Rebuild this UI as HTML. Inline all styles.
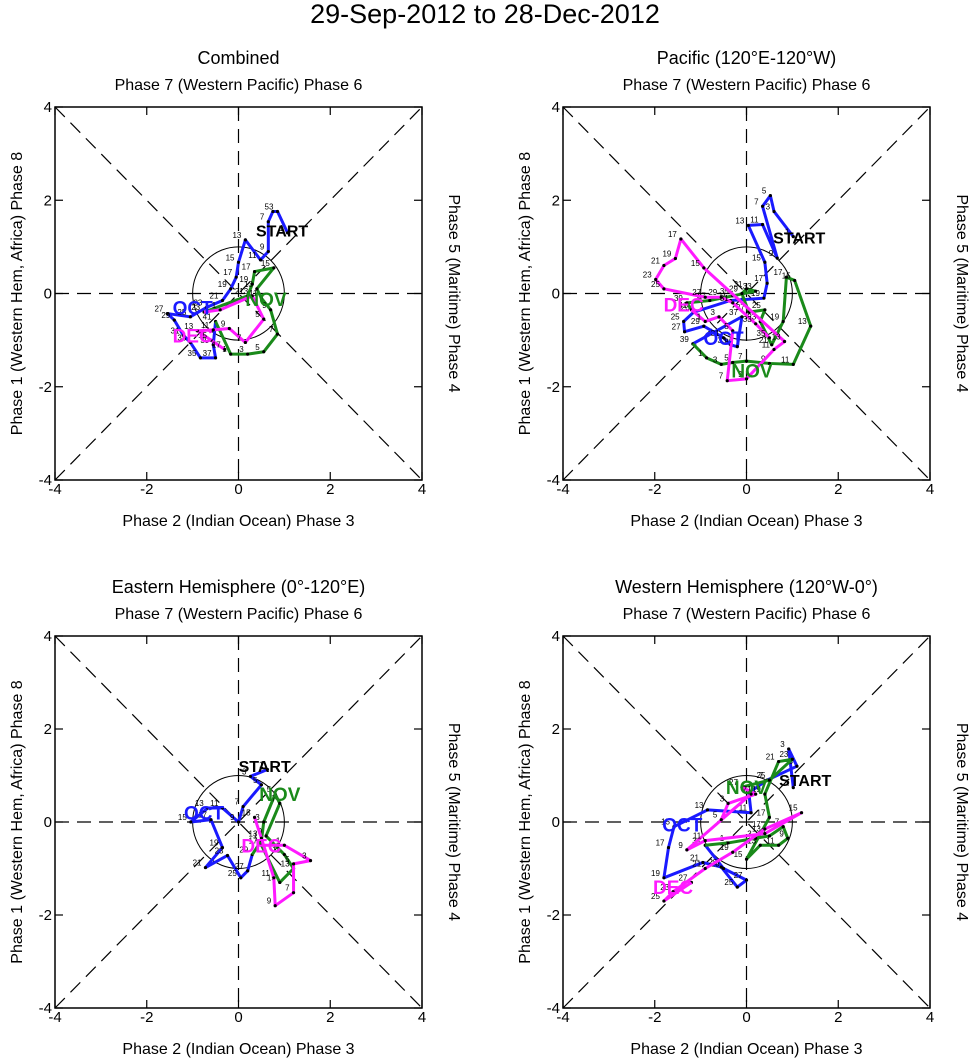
<!DOCTYPE html>
<html><head><meta charset="utf-8"><style>
body{margin:0;background:#fff;}
svg{display:block;font-family:"Liberation Sans",sans-serif;}
</style></head><body>
<svg id="fig" width="971" height="1060" viewBox="0 0 971 1060">
<text x="485" y="23" font-size="27" text-anchor="middle">29-Sep-2012 to 28-Dec-2012</text>
</svg>
<script>
const ticks=[-4,-2,0,2,4];
const tickLabels=["-4","-2","0","2","4"];
const titles=["Combined","Pacific (120°E-120°W)","Eastern Hemisphere (0°-120°E)","Western Hemisphere (120°W-0°)"];
const p1Oct=[[1.07,1.3],[0.85,1.76],[0.75,1.76],[0.65,1.54],[0.65,0.9],[0.48,0.72],[0.15,1.15],[0,0.67],[-0.05,0.35],[-0.17,0.1],[-0.35,-0.15],[-0.7,-0.3],[-1.05,-0.5],[-1.55,-0.43],[-1.4,-0.57],[-1.2,-0.9],[-1.05,-1.05],[-0.83,-1.38],[-0.5,-1.38],[-0.55,-1.1],[-0.5,-0.6]];
const p1Nov=[[-0.17,-1.3],[0.2,-1.3],[0.55,-1.25],[0.85,-0.87],[0.7,-0.35],[0.5,-0.1],[0.4,0.1],[0.77,0.55],[0.35,0.47],[0.3,0.2],[0.2,-0.05],[-0.75,-0.4]];
const p1Dec=[[-0.4,-0.35],[0.3,-0.05],[0.55,-0.55],[0.15,-1.05],[-0.2,-0.75],[-0.55,-0.78],[-0.9,-0.8],[-0.6,-1.0],[-0.3,-1.2]];
const p2Oct=[[1.02,1.22],[0.6,1.76],[0.52,2.1],[0.35,1.87],[0.67,0.76],[0.35,1.48],[0.04,1.46],[0.4,0.67],[0.45,0.22],[0.38,-0.1],[-0.35,-0.15],[-1.15,-0.4],[-1.37,-0.6],[-1.35,-0.82],[-0.93,-0.7],[-0.5,-0.95],[-0.35,-1.1],[-0.2,-1.14],[-0.1,-0.5],[-1.17,-1.08]];
const p2Nov=[[-0.87,-1.38],[-0.55,-1.52],[-0.3,-1.48],[0,-1.45],[0.5,-1.5],[1.02,-1.52],[1.4,-0.7],[1.05,0.28],[0.87,0.35],[0.8,-0.6],[0.55,-1.1],[0.3,-0.6],[0.4,-0.35],[0.05,-0.4],[-0.1,0.0],[0.0,0.1],[0.2,0.05],[-0.3,-0.05],[-0.8,-0.15],[-1.3,-0.2],[-1.2,-0.35]];
const p2Dec=[[-0.9,-0.6],[-0.6,-0.5],[-0.3,-0.8],[-0.42,-1.87],[0,-1.83],[0.6,-1.2],[0.83,-1.03],[-0.93,0.55],[-1.43,1.17],[-1.55,0.75],[-1.8,0.6],[-1.98,0.3],[-1.8,0.1],[-0.9,-0.08],[-0.55,-0.08],[-0.3,-0.2],[0.2,-0.65],[0.5,-0.95]];
const p3Oct=[[0.63,1.13],[0.26,0.98],[0.5,0.8],[0.1,0.33],[0,0],[-0.35,0.3],[-0.67,0.3],[-1.04,0],[-0.6,0.05],[-0.35,-0.55],[-0.72,-0.98],[-0.24,-0.72],[0.05,-1.2],[0.2,-1.05],[0.3,-0.7]];
const p3Nov=[[0.5,-0.4],[0.55,0.0],[0.8,0.6],[0.9,0.4],[0.6,-0.3],[1.0,-0.7],[1.2,-1.0],[0.9,-1.3],[0.5,-0.5]];
const p3Dec=[[1.0,-0.5],[1.57,-0.83],[1.2,-0.9],[1.2,-1.52],[0.8,-1.8],[0.77,-1.2],[0.5,-0.35],[0.35,0.1]];
const p4Oct=[[1.02,0.74],[0.92,1.57],[1.1,1.2],[0.45,0.9],[0.05,0.63],[0.1,0.2],[-0.85,0.26],[-1.58,-0.1],[-1.7,-0.55],[-1.8,-1.2],[-0.95,-0.87],[-0.55,-0.97],[-0.2,-1.4],[0,-1.25],[-0.5,-1.0],[-0.9,-0.5]];
const p4Nov=[[-0.4,-0.45],[0.2,-0.35],[0.5,-0.3],[0.8,-0.1],[0.9,-0.35],[0.7,-0.5],[0.3,-0.5],[0,-0.8],[0.5,0.1],[0.4,0.6],[0.7,1.3],[1.0,1.35],[0.5,0.9],[-0.1,0.75]];
const p4Dec=[[0.2,0.6],[-0.4,0.4],[-0.55,0.05],[0.1,0.6],[-1.3,-0.6],[-0.9,-0.4],[0.4,-0.25],[1.2,0.2],[0.4,-0.15],[-0.3,-0.65],[-0.9,-1.0],[-1.6,-1.5],[-1.8,-1.7],[-1.2,-1.3]];
const startPos=[[0.95,1.35],[1.15,1.2],[0.57,1.2],[1.28,0.9]];
const octLbl=[[-1.0,-0.3],[-0.5,-0.95],[-0.75,0.2],[-1.4,-0.05]];
const novLbl=[[0.6,-0.12],[0.12,-1.65],[0.9,0.6],[0.0,0.75]];
const decLbl=[[-1.0,-0.9],[-1.37,-0.24],[0.5,-0.5],[-1.6,-1.4]];
const panels=[{l:55,r:422,t:107,b:480},{l:563,r:930,t:107,b:480},{l:55,r:422,t:636,b:1008},{l:563,r:930,t:636,b:1008}];
const tracks=[[p1Oct,p1Nov,p1Dec],[p2Oct,p2Nov,p2Dec],[p3Oct,p3Nov,p3Dec],[p4Oct,p4Nov,p4Dec]];
const colors=["#1a1aff","#1a8a1a","#ff1aff"];
const NS="http://www.w3.org/2000/svg";
const svg=document.getElementById('fig');
function mk(tag,attrs,parent,txt){const e=document.createElementNS(NS,tag);for(const k in attrs)e.setAttribute(k,attrs[k]);if(txt!==undefined)e.textContent=txt;(parent||svg).appendChild(e);return e;}
panels.forEach((P,i)=>{
  const sx=v=>P.l+(v+4)/8*(P.r-P.l);
  const sy=v=>P.b-(v+4)/8*(P.b-P.t);
  const g=mk('g',{});
  
  
  const cx=(P.l+P.r)/2;
  let e=mk('text',{x:cx,y:P.t-43,'font-size':18,'text-anchor':'middle'},g,titles[i]);
  
  e=mk('text',{x:cx,y:P.t-17,'font-size':16,'text-anchor':'middle'},g,'Phase 7 (Western Pacific) Phase 6');
  
  e=mk('text',{x:cx,y:P.b+46,'font-size':16,'text-anchor':'middle'},g,'Phase 2 (Indian Ocean) Phase 3');
  
  const cy=(P.t+P.b)/2;
  e=mk('text',{x:P.l-39,y:cy,'font-size':16,'text-anchor':'middle',transform:`rotate(-90 ${P.l-39} ${cy})`,dy:6},g,'Phase 1 (Western Hem, Africa) Phase 8');
  
  e=mk('text',{x:P.r+33,y:cy,'font-size':16,'text-anchor':'middle',transform:`rotate(90 ${P.r+33} ${cy})`,dy:6},g,'Phase 5 (Maritime) Phase 4');
  
  const dash={stroke:'#000','stroke-width':1.2,'stroke-dasharray':'14,8',fill:'none'};
  mk('line',Object.assign({x1:P.l,y1:P.t,x2:P.r,y2:P.b},dash),g);
  mk('line',Object.assign({x1:P.l,y1:P.b,x2:P.r,y2:P.t},dash),g);
  mk('line',Object.assign({x1:sx(0),y1:P.t,x2:sx(0),y2:P.b},dash),g);
  mk('line',Object.assign({x1:P.l,y1:sy(0),x2:P.r,y2:sy(0)},dash),g);
  mk('ellipse',{cx:sx(0),cy:sy(0),rx:sx(1)-sx(0),ry:sy(0)-sy(1),fill:'none',stroke:'#000','stroke-width':1},g);
  e=mk('rect',{x:P.l,y:P.t,width:P.r-P.l,height:P.b-P.t,fill:'none',stroke:'#000','stroke-width':1.5},g);
  
  ticks.forEach((t,k)=>{
    mk('line',{x1:sx(t),y1:P.b,x2:sx(t),y2:P.b-8,stroke:'#000','stroke-width':1.2},g);
    mk('line',{x1:sx(t),y1:P.t,x2:sx(t),y2:P.t+8,stroke:'#000','stroke-width':1.2},g);
    mk('line',{x1:P.l,y1:sy(t),x2:P.l+8,y2:sy(t),stroke:'#000','stroke-width':1.2},g);
    mk('line',{x1:P.r,y1:sy(t),x2:P.r-8,y2:sy(t),stroke:'#000','stroke-width':1.2},g);
    let tl=mk('text',{x:sx(t),y:P.b+14,'font-size':15,'text-anchor':'middle'},g,tickLabels[k]);
    
    tl=mk('text',{x:P.l-3,y:sy(t)+5,'font-size':15,'text-anchor':'end'},g,tickLabels[k]);
    
  });
  let prev=null;
  tracks[i].forEach((tr,m)=>{
    const pts=(prev?[prev]:[]).concat(tr);
    const pl=mk('polyline',{points:pts.map(p=>sx(p[0])+','+sy(p[1])).join(' '),fill:'none',stroke:colors[m],'stroke-width':3,'stroke-linejoin':'round'},g);
    
    
    tr.forEach((p,j)=>{
      mk('circle',{cx:sx(p[0]),cy:sy(p[1]),r:1.6,fill:'#000'},g);
      mk('text',{x:sx(p[0])-4,y:sy(p[1])-2,'font-size':8,'text-anchor':'end'},g,String(j*2+1));
    });
    prev=tr[tr.length-1];
  });
  const lbls=[[octLbl,'OCT'],[novLbl,'NOV'],[decLbl,'DEC']];
  lbls.forEach((L,m)=>{
    const t=mk('text',{x:sx(L[0][i][0]),y:sy(L[0][i][1])+7,'font-size':19,'font-weight':'bold','text-anchor':'middle',fill:colors[m]},g,L[1]);
    
    
  });
  const s=mk('text',{x:sx(startPos[i][0]),y:sy(startPos[i][1])+6,'font-size':16,'font-weight':'bold','text-anchor':'middle'},g,'START');
  
  
});
</script>
</body></html>
